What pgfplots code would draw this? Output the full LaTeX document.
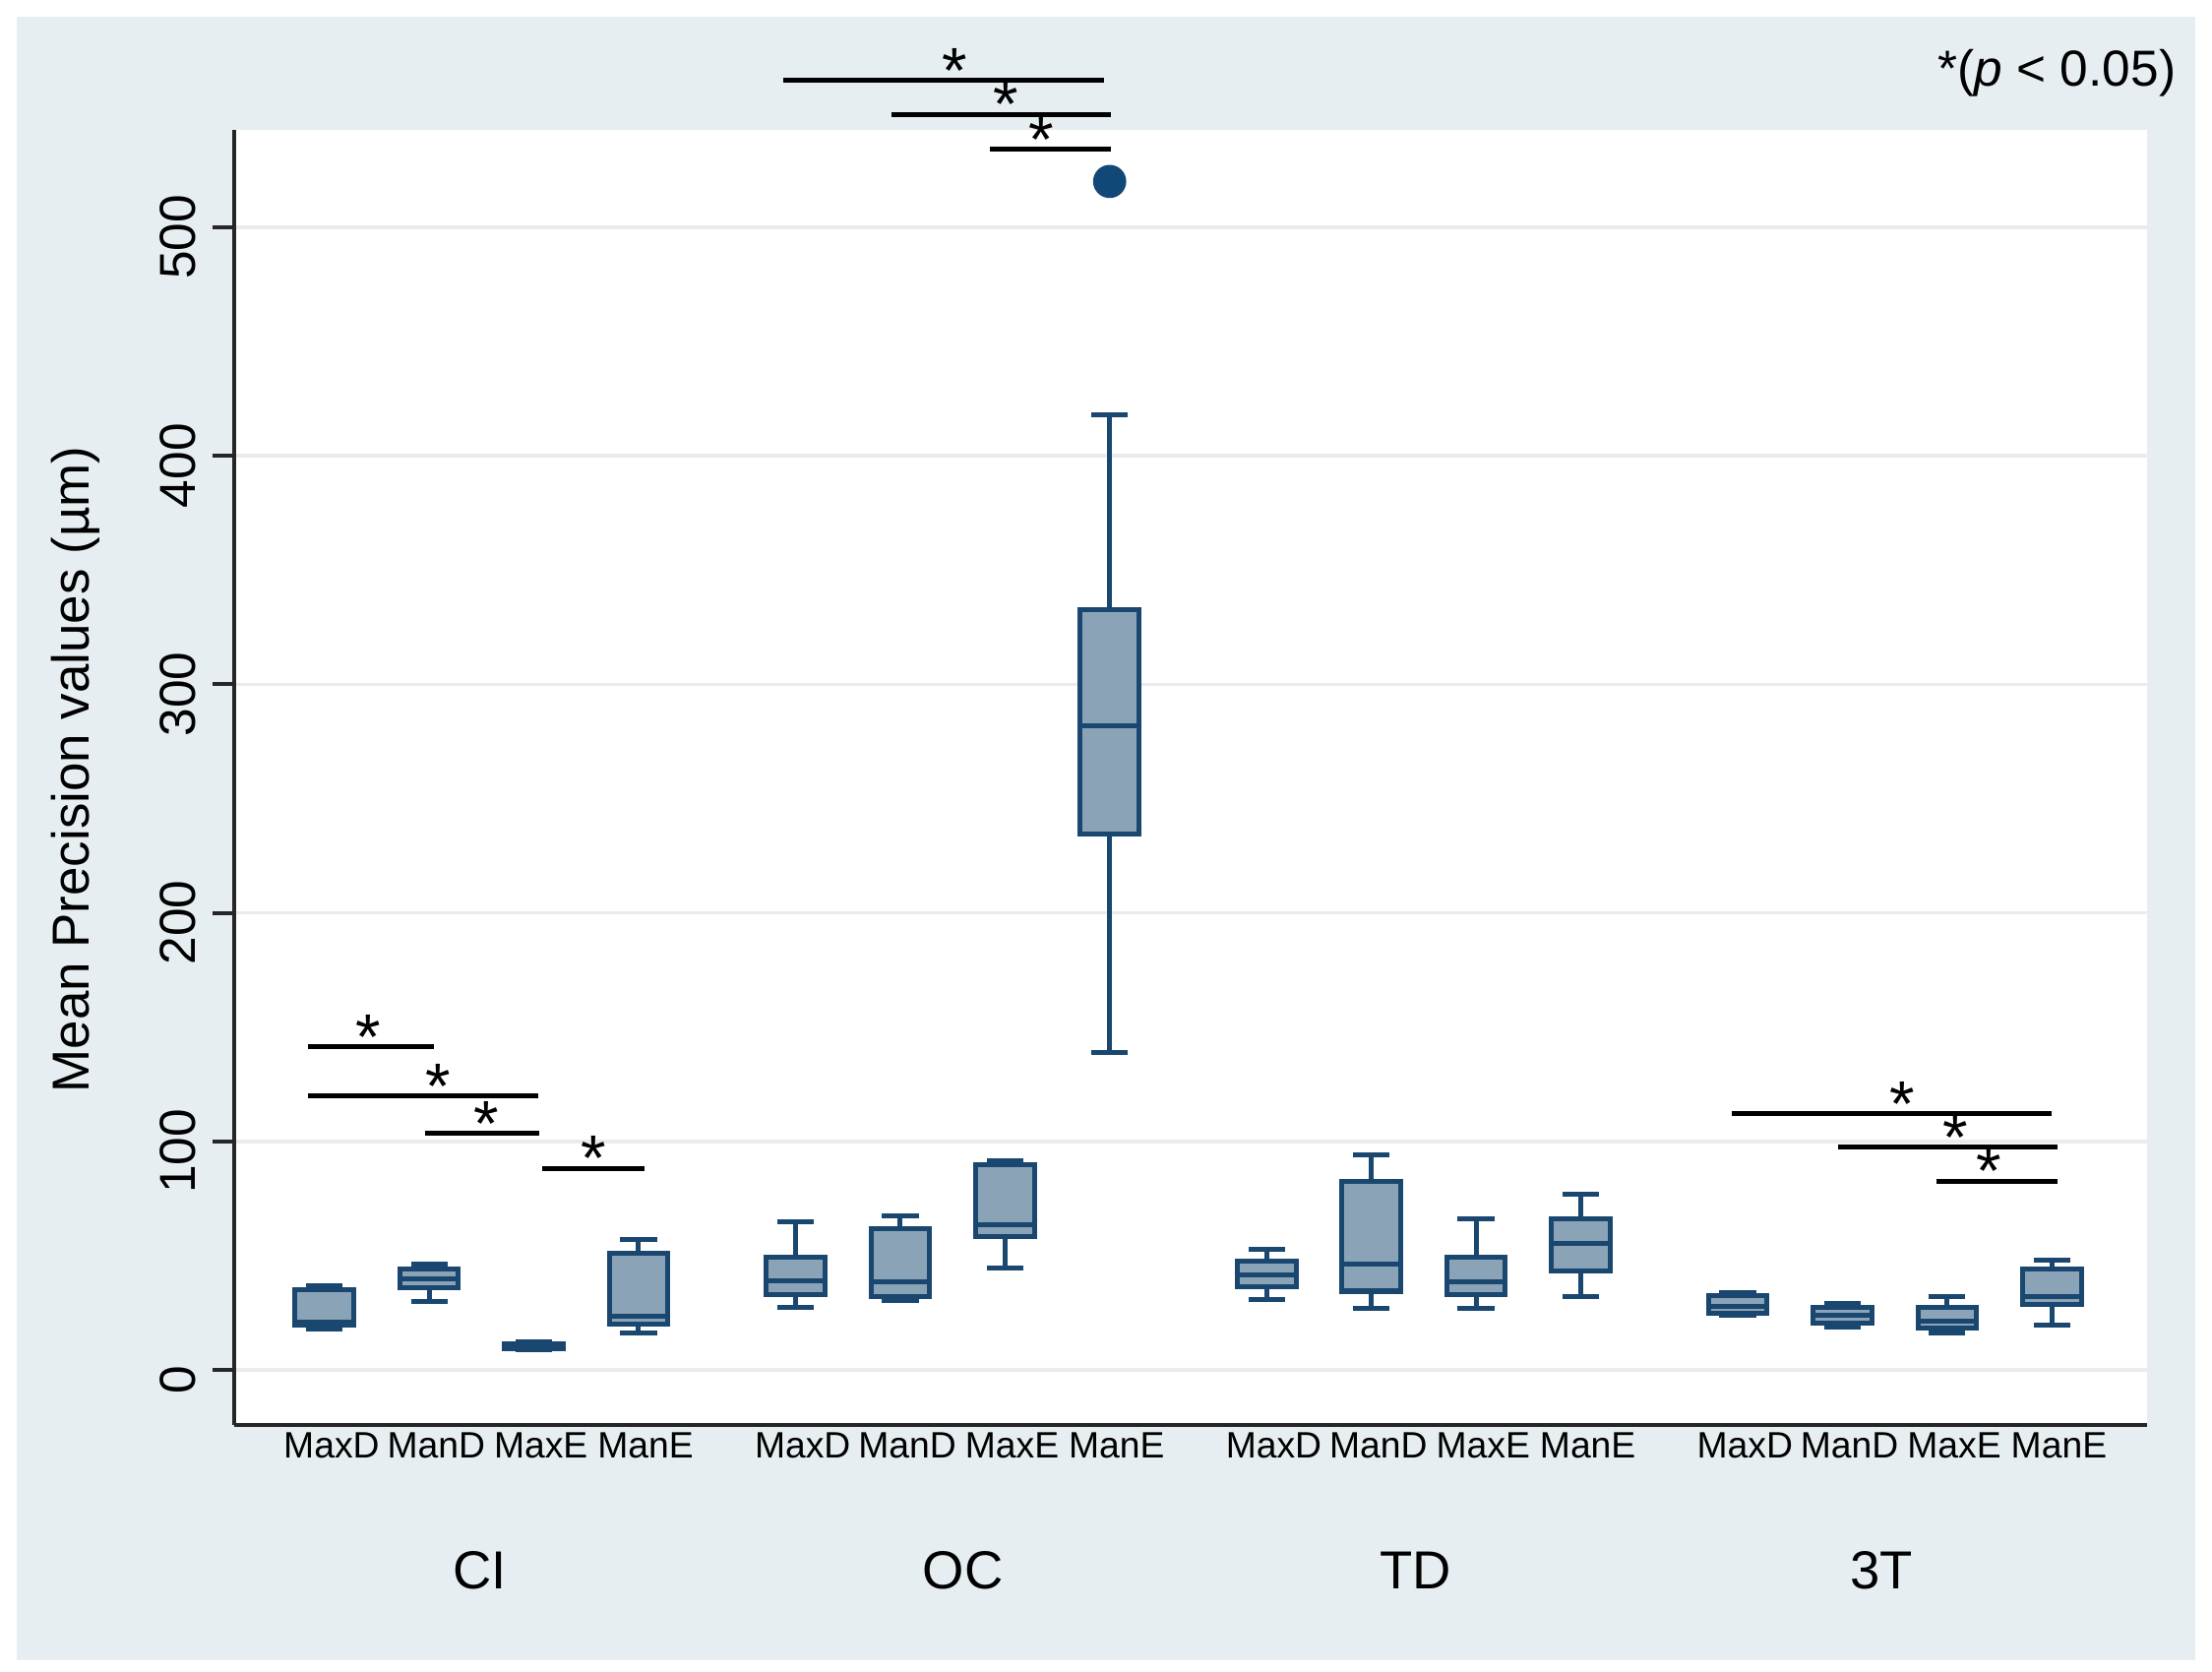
\documentclass[border=0pt]{standalone}
\usepackage{fontspec}
\setmainfont{Liberation Sans}
\usepackage{pgfplots}
\pgfplotsset{compat=1.18}
\usepgfplotslibrary{statistics}

\definecolor{stataedge}{RGB}{26,71,111}
\definecolor{statafill}{RGB}{139,163,183}
\definecolor{outerbg}{RGB}{230,238,242}
\definecolor{gridcol}{RGB}{232,236,238}
\definecolor{dotcol}{RGB}{18,72,120}

\pgfplotsset{boxst/.style={draw=stataedge, fill=statafill, line width=1.0pt, solid}}

% box: position, lower whisker, lower quartile, median, upper quartile, upper whisker
\newcommand{\bx}[6]{%
  \addplot[boxst, boxplot prepared={draw direction=y, draw position=#1, lower whisker=#2,
    lower quartile=#3, median=#4, upper quartile=#5, upper whisker=#6}]
    coordinates {};}
% significance bar: x1, x2, y, star x
\newcommand{\sig}[4]{%
  \addplot[black, line width=1.0pt] coordinates {(#1,#3) (#2,#3)};
  \node[font=\fontsize{13}{13}\selectfont, anchor=base, inner sep=0pt, yshift=-0.9mm] at (axis cs:#4,#3) {*};}

\begin{document}
\begin{tikzpicture}
\useasboundingbox (0,0) rectangle (156.8mm,118.5mm);
\fill[white] (0,0) rectangle (156.8mm,118.5mm);
\fill[outerbg] (1.2mm,0.8mm) rectangle (155.6mm,117.3mm);
\begin{axis}[
  at={(16.6mm,17.5mm)}, anchor=south west,
  scale only axis, width=135.6mm, height=91.8mm,
  xmin=-0.8625, xmax=17.41, ymin=-24.07, ymax=542.6,
  axis background/.style={fill=white},
  axis lines=left, axis line style={-, black!85, line width=0.8pt},
  xtick={0,1,2,3,4.5,5.5,6.5,7.5,9,10,11,12,13.5,14.5,15.5,16.5},
  xticklabels={MaxD,ManD,MaxE,ManE,MaxD,ManD,MaxE,ManE,MaxD,ManD,MaxE,ManE,MaxD,ManD,MaxE,ManE},
  x tick style={draw=none},
  ytick={0,100,...,500},
  y tick style={black!85, line width=0.8pt},
  tick align=outside, major tick length=1.5mm,
  ymajorgrids, grid style={gridcol, line width=0.7pt},
  yticklabel style={rotate=90, anchor=south, xshift=-0.7mm, font=\fontsize{10.2}{10.2}\selectfont},
  xticklabel style={anchor=north, inner sep=0pt, yshift=1.0mm, xshift=0.5mm, font=\fontsize{7.4}{7.4}\selectfont},
  /pgf/number format/assume math mode=true,
  clip=false,
  boxplot/draw direction=y,
  boxplot/box extend=0.56, boxplot/whisker extend=0.35,
]
% CI
\bx{0}{18}{19.5}{21}{35}{37}
\bx{1}{30}{36}{40}{44}{46.5}
\bx{2}{9}{9.5}{10.5}{11.5}{12.5}
\bx{3}{16}{20}{23.5}{51}{57}
% OC
\bx{4.5}{27.5}{33}{39}{49.5}{65}
\bx{5.5}{30.5}{32}{38.5}{62}{67.5}
\bx{6.5}{44.5}{58.5}{63.5}{90}{91.5}
\addplot[boxst, mark=*, mark size=1mm, mark options={draw=dotcol, fill=dotcol},
  boxplot prepared={draw direction=y, draw position=7.5, lower whisker=139, lower quartile=234.5,
  median=282, upper quartile=332.5, upper whisker=418}] table[y index=0] {
520
};
% TD
\bx{9}{31}{36.5}{41.5}{47.5}{53}
\bx{10}{27}{34.5}{46.5}{82.5}{94}
\bx{11}{27}{33}{38.5}{49.5}{66}
\bx{12}{32}{43.5}{55.5}{66}{77}
% 3T
\bx{13.5}{24}{25}{28}{32.5}{34}
\bx{14.5}{19}{20.5}{24}{27.5}{29}
\bx{15.5}{16}{18.5}{21.5}{27.5}{32}
\bx{16.5}{19.5}{28.5}{32}{44}{48}

% significance bars
\sig{-0.16}{1.05}{141.4}{0.42}
\sig{-0.16}{2.04}{119.8}{1.09}
\sig{0.96}{2.05}{103.7}{1.55}
\sig{2.08}{3.06}{88.3}{2.57}
\sig{4.38}{7.45}{564.2}{6.02}
\sig{5.42}{7.51}{549.4}{6.51}
\sig{6.36}{7.51}{534.0}{6.85}
\sig{13.44}{16.5}{112.3}{15.07}
\sig{14.46}{16.55}{97.5}{15.58}
\sig{15.40}{16.55}{82.7}{15.90}

% group labels
\node[font=\fontsize{10.8}{12}\selectfont] at (axis cs:1.48,-24.07) [yshift=-10.3mm] {CI};
\node[font=\fontsize{10.8}{12}\selectfont] at (axis cs:6.1,-24.07) [yshift=-10.3mm] {OC};
\node[font=\fontsize{10.8}{12}\selectfont] at (axis cs:10.42,-24.07) [yshift=-10.3mm] {TD};
\node[font=\fontsize{10.8}{12}\selectfont] at (axis cs:14.87,-24.07) [yshift=-10.3mm] {3T};
\end{axis}
\node[rotate=90, anchor=base, font=\fontsize{10.5}{12}\selectfont] at (6.28mm,63.95mm) {Mean Precision values (µm)};
\node[anchor=east, inner sep=0pt, font=\fontsize{10.2}{12}\selectfont] at (154.3mm,113.3mm) {*(\textit{p} < 0.05)};
\end{tikzpicture}
\end{document}
